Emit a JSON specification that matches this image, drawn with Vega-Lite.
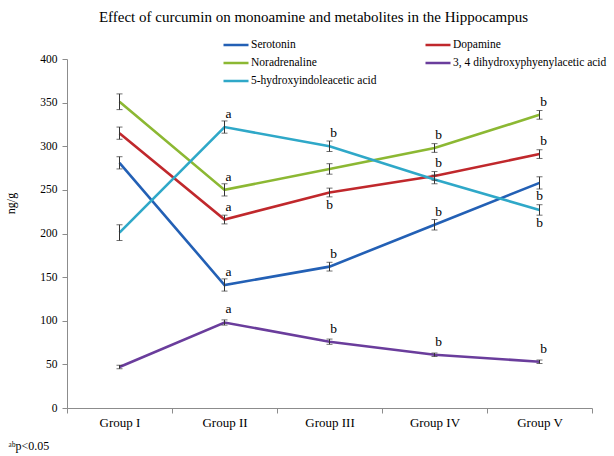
{
  "$schema": "https://vega.github.io/schema/vega-lite/v6.json",
  "width": 525,
  "height": 349,
  "autosize": {"type": "none"},
  "padding": {"left": 67, "top": 59, "right": 22, "bottom": 48},
  "background": "white",
  "title": {
    "text": "Effect  of curcumin  on monoamine  and metabolites  in the Hippocampus",
    "font": "Liberation Serif",
    "fontSize": 15,
    "fontWeight": "normal",
    "color": "#000000",
    "anchor": "middle",
    "frame": "group",
    "dx": -16,
    "dy": -8
  },
  "config": {
    "view": {"stroke": null},
    "font": "Liberation Serif"
  },
  "data": {
    "values": [
      {"series": "Serotonin", "group": "Group I", "value": 281, "err": 7},
      {"series": "Serotonin", "group": "Group II", "value": 141, "err": 7, "letter": "a", "side": "above"},
      {"series": "Serotonin", "group": "Group III", "value": 162, "err": 5, "letter": "b", "side": "above"},
      {"series": "Serotonin", "group": "Group IV", "value": 210, "err": 6, "letter": "b", "side": "above"},
      {"series": "Serotonin", "group": "Group V", "value": 258, "err": 7, "letter": "b", "side": "below"},
      {"series": "Dopamine", "group": "Group I", "value": 315, "err": 7},
      {"series": "Dopamine", "group": "Group II", "value": 216, "err": 5, "letter": "a", "side": "above"},
      {"series": "Dopamine", "group": "Group III", "value": 247, "err": 5, "letter": "b", "side": "below"},
      {"series": "Dopamine", "group": "Group IV", "value": 266, "err": 5, "letter": "b", "side": "above"},
      {"series": "Dopamine", "group": "Group V", "value": 291, "err": 5, "letter": "b", "side": "above"},
      {"series": "Noradrenaline", "group": "Group I", "value": 351, "err": 9},
      {"series": "Noradrenaline", "group": "Group II", "value": 250, "err": 7, "letter": "a", "side": "above"},
      {"series": "Noradrenaline", "group": "Group III", "value": 274, "err": 6},
      {"series": "Noradrenaline", "group": "Group IV", "value": 298, "err": 5, "letter": "b", "side": "above"},
      {"series": "Noradrenaline", "group": "Group V", "value": 336, "err": 5, "letter": "b", "side": "above"},
      {"series": "3, 4 dihydroxyphyenylacetic acid", "group": "Group I", "value": 47, "err": 2},
      {"series": "3, 4 dihydroxyphyenylacetic acid", "group": "Group II", "value": 98, "err": 3, "letter": "a", "side": "above"},
      {"series": "3, 4 dihydroxyphyenylacetic acid", "group": "Group III", "value": 76, "err": 3, "letter": "b", "side": "above"},
      {"series": "3, 4 dihydroxyphyenylacetic acid", "group": "Group IV", "value": 61, "err": 2, "letter": "b", "side": "above"},
      {"series": "3, 4 dihydroxyphyenylacetic acid", "group": "Group V", "value": 53, "err": 2, "letter": "b", "side": "above"},
      {"series": "5-hydroxyindoleacetic acid", "group": "Group I", "value": 201, "err": 9},
      {"series": "5-hydroxyindoleacetic acid", "group": "Group II", "value": 322, "err": 7, "letter": "a", "side": "above"},
      {"series": "5-hydroxyindoleacetic acid", "group": "Group III", "value": 300, "err": 6, "letter": "b", "side": "above"},
      {"series": "5-hydroxyindoleacetic acid", "group": "Group IV", "value": 262, "err": 5},
      {"series": "5-hydroxyindoleacetic acid", "group": "Group V", "value": 227, "err": 6, "letter": "b", "side": "below"}
    ]
  },
  "encoding": {
    "x": {
      "field": "group",
      "type": "nominal",
      "sort": ["Group I", "Group II", "Group III", "Group IV", "Group V"],
      "bandPosition": 0.5,
      "scale": {"type": "band", "paddingInner": 0, "paddingOuter": 0},
      "axis": {
        "title": "ᵃᵇp<0.05",
        "titleFont": "Liberation Serif",
        "titleFontSize": 12,
        "titleFontWeight": "normal",
        "titleColor": "#000000",
        "titleAlign": "left",
        "titleAnchor": "start",
        "titleBaseline": "alphabetic",
        "titleX": -59,
        "titleY": 41,
        "labelAngle": 0,
        "labelFont": "Liberation Serif",
        "labelFontSize": 13,
        "labelColor": "#000000",
        "labelPadding": 3,
        "tickBand": "extent",
        "tickSize": 5,
        "tickColor": "#8c8c8c",
        "domainColor": "#8c8c8c",
        "grid": false
      }
    },
    "y": {
      "field": "value",
      "type": "quantitative",
      "scale": {"domain": [0, 400], "nice": false},
      "axis": {
        "title": "ng/g",
        "titleFont": "Liberation Serif",
        "titleFontSize": 12,
        "titleFontWeight": "normal",
        "titleColor": "#000000",
        "titleX": -50,
        "titleY": 144,
        "values": [0, 50, 100, 150, 200, 250, 300, 350, 400],
        "labelFont": "Liberation Serif",
        "labelFontSize": 11.5,
        "labelColor": "#000000",
        "labelPadding": 5,
        "tickSize": 5,
        "tickColor": "#8c8c8c",
        "domainColor": "#8c8c8c",
        "grid": false
      }
    }
  },
  "layer": [
    {
      "mark": {"type": "line", "strokeWidth": 2.6},
      "encoding": {
        "color": {
          "field": "series",
          "type": "nominal",
          "scale": {
            "domain": ["Serotonin", "Noradrenaline", "5-hydroxyindoleacetic acid", "Dopamine", "3, 4 dihydroxyphyenylacetic acid"],
            "range": ["#2360b5", "#8cb833", "#2fa8c8", "#c0282c", "#6a3d9c"]
          },
          "legend": {
            "title": null,
            "orient": "none",
            "legendX": 155,
            "legendY": -22,
            "direction": "vertical",
            "columns": 2,
            "columnPadding": 47,
            "rowPadding": 2,
            "clipHeight": 16,
            "padding": 0,
            "symbolType": "stroke",
            "symbolSize": 625,
            "symbolStrokeWidth": 2.6,
            "labelFont": "Liberation Serif",
            "labelFontSize": 11.5,
            "labelColor": "#000000",
            "labelOffset": 1,
            "labelLimit": 300
          }
        }
      }
    },
    {
      "mark": {
        "type": "errorbar",
        "color": "#333333",
        "thickness": 1,
        "ticks": {"size": 6, "thickness": 1, "color": "#333333"}
      },
      "encoding": {
        "yError": {"field": "err"},
        "detail": {"field": "series"}
      }
    },
    {
      "transform": [{"filter": "datum.side === 'above'"}],
      "mark": {"type": "text", "baseline": "middle", "dy": -13, "dx": 4, "fontSize": 13.5, "font": "Liberation Serif", "fill": "#000000", "color": "#000000"},
      "encoding": {"text": {"field": "letter"}}
    },
    {
      "transform": [{"filter": "datum.side === 'below'"}],
      "mark": {"type": "text", "baseline": "middle", "dy": 13, "dx": 0, "fontSize": 13.5, "font": "Liberation Serif", "fill": "#000000", "color": "#000000"},
      "encoding": {"text": {"field": "letter"}}
    }
  ]
}
